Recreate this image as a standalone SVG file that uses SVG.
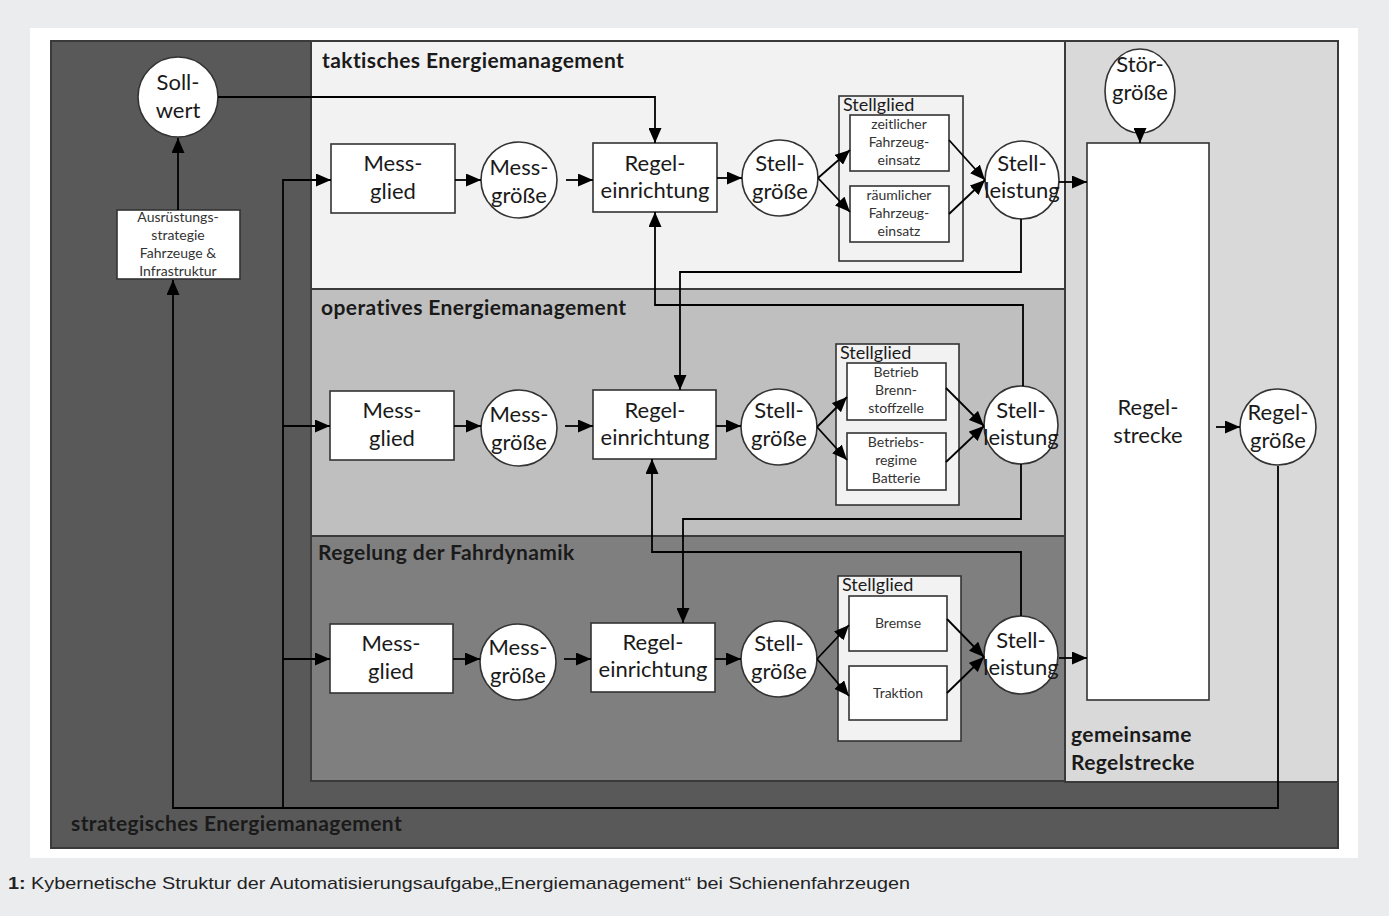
<svg xmlns="http://www.w3.org/2000/svg" width="1389" height="916" viewBox="0 0 1389 916">
<style>
.t{font-family:Lato,"Open Sans","DejaVu Sans",sans-serif;fill:#1a1a1a;text-anchor:middle}
.big{font-size:22px}
.sm{font-size:14px;fill:#333}
.sg{font-size:18px;text-anchor:start}
.ttl{font-size:21px;font-weight:bold;text-anchor:start;letter-spacing:0.4px}
.box{fill:#fff;stroke:#333;stroke-width:1.6}
.cont{fill:#f2f2f2;stroke:#333;stroke-width:1.6}
.pan{stroke:#3a3a3a;stroke-width:2}
.c{fill:none;stroke:#000;stroke-width:1.8;marker-end:url(#ah)}
</style>
<defs>
<marker id="ah" markerUnits="userSpaceOnUse" markerWidth="15" markerHeight="13" refX="15" refY="6.5" orient="auto">
<path d="M0,0 L15,6.5 L0,13 z" fill="#000"/>
</marker>
</defs>
<rect x="0" y="0" width="1389" height="916" fill="#ebecee"/>
<rect x="30" y="28" width="1328" height="830" fill="#fff"/>
<g id="strategic">
<rect class="pan" x="51" y="41" width="1287" height="807" fill="#595959"/>
<text class="t ttl" x="71" y="831">strategisches Energiemanagement</text>
</g>
<g id="panel-gemeinsam">
<rect class="pan" x="1065" y="41" width="273" height="741" fill="#d9d9d9"/>
<text class="t ttl" x="1071" y="742">gemeinsame</text>
<text class="t ttl" x="1071" y="770">Regelstrecke</text>
</g>
<g id="panel-taktisch">
<rect class="pan" x="311" y="41" width="754" height="248" fill="#f2f2f2"/>
<text class="t ttl" x="322" y="68">taktisches Energiemanagement</text>
</g>
<g id="panel-operativ">
<rect class="pan" x="311" y="289" width="754" height="247" fill="#bfbfbf"/>
<text class="t ttl" x="321" y="315">operatives Energiemanagement</text>
</g>
<g id="panel-fahrdynamik">
<rect class="pan" x="311" y="536" width="754" height="245" fill="#7f7f7f"/>
<text class="t ttl" x="318" y="560">Regelung der Fahrdynamik</text>
</g>

<g id="sollwert">
<circle class="box" cx="178" cy="97" r="40"/>
<text class="t big" x="178" y="90">Soll-</text>
<text class="t big" x="178" y="118">wert</text>
</g>
<g id="ausruestung">
<rect class="box" x="117" y="210" width="123" height="69"/>
<text class="t sm" x="178" y="222">Ausrüstungs-</text>
<text class="t sm" x="178" y="240">strategie</text>
<text class="t sm" x="178" y="258">Fahrzeuge &amp;</text>
<text class="t sm" x="178" y="276">Infrastruktur</text>
</g>

<!-- tactical -->
<g id="t-messglied">
<rect class="box" x="331" y="144" width="124" height="69"/>
<text class="t big" x="393" y="171">Mess-</text>
<text class="t big" x="393" y="199">glied</text>
</g>
<g id="t-messgroesse">
<circle class="box" cx="519" cy="180" r="38"/>
<text class="t big" x="519" y="175">Mess-</text>
<text class="t big" x="519" y="203">größe</text>
</g>
<g id="t-regeleinrichtung">
<rect class="box" x="593" y="143" width="124" height="69"/>
<text class="t big" x="655" y="171">Regel-</text>
<text class="t big" x="655" y="198">einrichtung</text>
</g>
<g id="t-stellgroesse">
<circle class="box" cx="780" cy="178" r="38"/>
<text class="t big" x="780" y="171">Stell-</text>
<text class="t big" x="780" y="199">größe</text>
</g>
<g id="t-stellglied">
<rect class="cont" x="839" y="96" width="124" height="165"/>
<text class="t sg" x="843" y="111">Stellglied</text>
<rect class="box" x="850" y="115" width="99" height="56"/>
<text class="t sm" x="899" y="129">zeitlicher</text>
<text class="t sm" x="899" y="147">Fahrzeug-</text>
<text class="t sm" x="899" y="165">einsatz</text>
<rect class="box" x="850" y="186" width="99" height="56"/>
<text class="t sm" x="899" y="200">räumlicher</text>
<text class="t sm" x="899" y="218">Fahrzeug-</text>
<text class="t sm" x="899" y="236">einsatz</text>
</g>
<g id="t-stellleistung">
<ellipse class="box" cx="1022" cy="180" rx="37" ry="39"/>
<text class="t big" x="1022" y="171">Stell-</text>
<text class="t big" x="1022" y="198">leistung</text>
</g>

<!-- operative -->
<g id="o-messglied">
<rect class="box" x="330" y="391" width="124" height="69"/>
<text class="t big" x="392" y="418">Mess-</text>
<text class="t big" x="392" y="446">glied</text>
</g>
<g id="o-messgroesse">
<circle class="box" cx="519" cy="428" r="38"/>
<text class="t big" x="519" y="422">Mess-</text>
<text class="t big" x="519" y="450">größe</text>
</g>
<g id="o-regeleinrichtung">
<rect class="box" x="593" y="390" width="123" height="69"/>
<text class="t big" x="655" y="418">Regel-</text>
<text class="t big" x="655" y="445">einrichtung</text>
</g>
<g id="o-stellgroesse">
<circle class="box" cx="779" cy="427" r="38"/>
<text class="t big" x="779" y="418">Stell-</text>
<text class="t big" x="779" y="446">größe</text>
</g>
<g id="o-stellglied">
<rect class="cont" x="836" y="344" width="123" height="161"/>
<text class="t sg" x="840" y="359">Stellglied</text>
<rect class="box" x="847" y="363" width="99" height="57"/>
<text class="t sm" x="896" y="377">Betrieb</text>
<text class="t sm" x="896" y="395">Brenn-</text>
<text class="t sm" x="896" y="413">stoffzelle</text>
<rect class="box" x="847" y="433" width="99" height="57"/>
<text class="t sm" x="896" y="447">Betriebs-</text>
<text class="t sm" x="896" y="465">regime</text>
<text class="t sm" x="896" y="483">Batterie</text>
</g>
<g id="o-stellleistung">
<ellipse class="box" cx="1021" cy="425" rx="37" ry="39"/>
<text class="t big" x="1021" y="418">Stell-</text>
<text class="t big" x="1021" y="445">leistung</text>
</g>

<!-- dynamics -->
<g id="f-messglied">
<rect class="box" x="330" y="624" width="123" height="69"/>
<text class="t big" x="391" y="651">Mess-</text>
<text class="t big" x="391" y="679">glied</text>
</g>
<g id="f-messgroesse">
<circle class="box" cx="518" cy="662" r="38"/>
<text class="t big" x="518" y="655">Mess-</text>
<text class="t big" x="518" y="683">größe</text>
</g>
<g id="f-regeleinrichtung">
<rect class="box" x="591" y="623" width="124" height="69"/>
<text class="t big" x="653" y="650">Regel-</text>
<text class="t big" x="653" y="677">einrichtung</text>
</g>
<g id="f-stellgroesse">
<circle class="box" cx="779" cy="659" r="38"/>
<text class="t big" x="779" y="651">Stell-</text>
<text class="t big" x="779" y="679">größe</text>
</g>
<g id="f-stellglied">
<rect class="cont" x="838" y="576" width="123" height="165"/>
<text class="t sg" x="842" y="591">Stellglied</text>
<rect class="box" x="849" y="596" width="98" height="55"/>
<text class="t sm" x="898" y="628">Bremse</text>
<rect class="box" x="849" y="666" width="98" height="54"/>
<text class="t sm" x="898" y="698">Traktion</text>
</g>
<g id="f-stellleistung">
<ellipse class="box" cx="1021" cy="655" rx="37" ry="39"/>
<text class="t big" x="1021" y="648">Stell-</text>
<text class="t big" x="1021" y="675">leistung</text>
</g>

<g id="stoergroesse">
<ellipse class="box" cx="1140" cy="91" rx="35" ry="42"/>
<text class="t big" x="1140" y="72">Stör-</text>
<text class="t big" x="1140" y="100">größe</text>
</g>
<g id="regelstrecke">
<rect class="box" x="1087" y="143" width="122" height="557"/>
<text class="t big" x="1148" y="415">Regel-</text>
<text class="t big" x="1148" y="443">strecke</text>
</g>
<g id="regelgroesse">
<circle class="box" cx="1278" cy="427" r="38"/>
<text class="t big" x="1278" y="420">Regel-</text>
<text class="t big" x="1278" y="448">größe</text>
</g>

<g id="connectors">
<path class="c" d="M178 210 V138"/>
<path class="c" d="M218 97 H655 V143"/>
<path class="c" d="M1278 466 V808 H173 V280"/>
<path class="c" d="M283 808 V180 H331"/>
<path class="c" d="M283 426 H330"/>
<path class="c" d="M283 659 H330"/>
<path class="c" d="M455 180 H481"/>
<path class="c" d="M566 180 H593"/>
<path class="c" d="M717 178 H742"/>
<path class="c" d="M818 178 L850 150"/>
<path class="c" d="M818 178 L850 212"/>
<path class="c" d="M949 140 L985 180"/>
<path class="c" d="M949 214 L985 180"/>
<path class="c" d="M1059 182 H1087"/>
<path class="c" d="M454 426 H481"/>
<path class="c" d="M565 426 H593"/>
<path class="c" d="M716 426 H741"/>
<path class="c" d="M817 427 L847 397"/>
<path class="c" d="M817 427 L847 460"/>
<path class="c" d="M946 388 L984 426"/>
<path class="c" d="M946 462 L984 426"/>
<path class="c" d="M453 659 H480"/>
<path class="c" d="M564 659 H591"/>
<path class="c" d="M715 659 H741"/>
<path class="c" d="M817 659 L849 625"/>
<path class="c" d="M817 659 L849 696"/>
<path class="c" d="M947 619 L984 657"/>
<path class="c" d="M947 693 L984 657"/>
<path class="c" d="M1059 658 H1087"/>
<path class="c" d="M1021 219 V272 H680 V390"/>
<path class="c" d="M1023 386 V305 H655 V212"/>
<path class="c" d="M1021 464 V519 H683 V623"/>
<path class="c" d="M1021 616 V552 H652 V459"/>
<path class="c" d="M1140 133 V143"/>
<path class="c" d="M1216 427 H1240"/>
</g>

<text font-family="'Liberation Sans Narrow','Liberation Sans',sans-serif" font-size="17" fill="#222" x="8" y="889" textLength="902" lengthAdjust="spacingAndGlyphs"><tspan font-weight="bold">1:</tspan> Kybernetische Struktur der Automatisierungsaufgabe„Energiemanagement“ bei Schienenfahrzeugen</text>
</svg>
